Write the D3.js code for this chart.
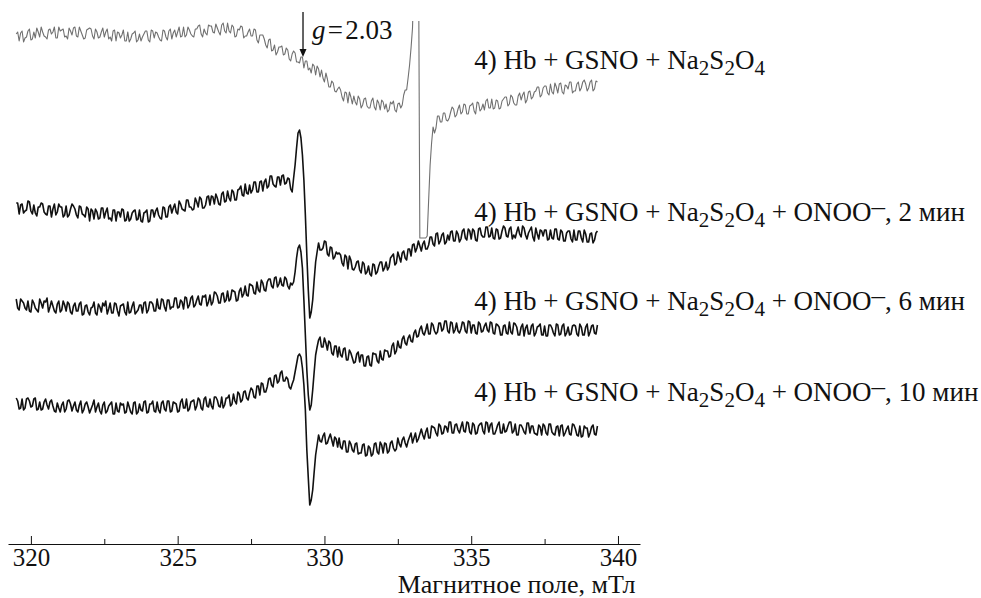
<!doctype html>
<html lang="ru">
<head>
<meta charset="utf-8">
<script src="https://cdn.jsdelivr.net/npm/d3@7"></script>
<style>
  body { margin: 0; background: #fff; }
  svg text { font-family: "Liberation Serif", "Times New Roman", serif; fill: #111; }
</style>
</head>
<body>
<svg id="chart" width="981" height="598"></svg>
<script>
// field sweep (mT), one spectrum value per step
const fieldStart = 319.5, fieldStep = 0.05;

// EPR spectra, arbitrary units
const specGSNO = [
  4,6,-3,5,7,-4,0,1,7,9,-2,-1,6,0,10,6,1,11,6,2,
  1,-1,8,9,4,6,11,0,0,11,7,8,9,1,2,-1,10,7,3,10,
  11,2,1,11,7,3,-1,0,8,9,10,9,2,-1,9,6,0,1,6,10,
  1,6,9,-1,1,-3,7,8,-3,6,5,0,3,8,-3,-3,6,-4,-1,4,
  5,7,-4,-2,4,-3,1,4,7,7,-2,-4,8,7,0,6,5,1,-2,-3,
  8,7,1,-2,7,9,-1,5,8,1,6,11,1,2,11,1,3,11,8,4,
  2,1,9,9,12,13,4,1,9,5,3,13,12,12,6,5,14,10,6,3,
  13,15,7,5,15,7,5,13,11,1,2,9,8,12,11,0,2,2,6,9,
  2,2,9,8,-2,-5,3,3,3,-1,-7,-10,-2,-1,-13,-12,-7,-17,-14,-9,
  -9,-8,-17,-16,-10,-12,-21,-23,-16,-13,-15,-24,-24,-25,-19,-19,-30,-23,-23,-32,
  -30,-35,-26,-28,-37,-28,-31,-39,-32,-40,-44,-35,-41,-49,-49,-43,-45,-53,-54,-51,
  -49,-52,-59,-63,-54,-55,-65,-54,-59,-66,-58,-64,-67,-58,-61,-70,-67,-61,-60,-68,
  -70,-70,-63,-60,-69,-72,-62,-65,-72,-62,-64,-71,-66,-74,-72,-64,-66,-63,-72,-74,
  -66,-65,-70,-67,-57,-52,-52,-40,-27,-10,10,60,120,120,120,-200,-200,-200,-200,-200,
  -198,-162,-127,-105,-89,-95,-90,-78,-78,-84,-84,-75,-75,-82,-83,-80,-74,-69,-71,-79,
  -77,-71,-67,-76,-74,-66,-67,-76,-76,-68,-67,-65,-73,-76,-64,-65,-73,-71,-66,-72,
  -63,-61,-70,-70,-61,-71,-70,-62,-63,-71,-70,-63,-61,-59,-59,-68,-66,-57,-59,-65,
  -67,-67,-58,-55,-62,-57,-54,-65,-62,-54,-53,-61,-59,-54,-53,-49,-49,-59,-57,-50,
  -48,-48,-55,-57,-46,-54,-56,-45,-49,-55,-46,-45,-54,-56,-47,-48,-51,-44,-44,-55,
  -53,-53,-46,-44,-53,-50,-44,-42,-46,-53,-50,-44,-42,-53,-51,-43,-44
];
const spec2min = [
  5,5,-6,3,4,-5,-3,-2,7,6,-3,-6,3,-5,-8,1,1,5,4,-4,
  -6,-7,2,2,-9,-1,4,-7,-4,4,1,1,-9,-7,2,-9,-7,-1,4,2,
  -1,-7,-10,2,1,-6,-7,-9,1,-1,-13,-1,-3,-11,-1,-4,-11,-10,0,0,
  -10,-4,0,-11,-10,-13,-2,-2,-13,-4,-4,-9,-1,-2,-13,-12,-4,-13,-11,-5,
  -3,-2,-12,-11,-2,-13,-14,-5,-4,-2,-14,-13,-2,-2,-9,-3,0,-7,-10,-11,
  1,0,-9,-9,1,3,-5,0,4,-4,-6,7,4,-1,-2,-3,8,8,1,1,
  -2,-1,10,6,1,11,9,0,0,3,11,12,3,12,11,4,14,10,4,3,
  14,16,6,7,17,10,7,18,16,8,8,18,19,22,13,12,24,15,14,23,
  15,18,26,26,16,16,26,27,17,26,29,20,22,32,32,24,22,21,31,31,
  23,32,33,24,25,30,29,19,16,30,43,60,75,78,70,53,28,-7,-47,-82,
  -110,-104,-92,-72,-54,-44,-35,-42,-42,-40,-33,-34,-46,-48,-39,-40,-51,-49,-44,-46,
  -45,-47,-55,-58,-47,-49,-61,-48,-52,-61,-62,-59,-54,-53,-62,-65,-54,-56,-66,-64,
  -58,-66,-68,-56,-57,-66,-64,-58,-54,-54,-63,-60,-54,-62,-59,-50,-48,-46,-57,-55,
  -44,-49,-54,-45,-43,-50,-52,-41,-41,-48,-37,-36,-44,-40,-33,-38,-43,-36,-33,-41,
  -41,-37,-29,-29,-36,-38,-26,-25,-36,-33,-27,-25,-36,-34,-27,-32,-24,-23,-33,-33,
  -23,-26,-34,-31,-23,-21,-30,-32,-21,-23,-31,-21,-23,-32,-33,-21,-20,-27,-29,-29,
  -19,-19,-29,-28,-20,-30,-31,-21,-22,-31,-30,-23,-18,-20,-28,-29,-21,-19,-31,-27,
  -30,-24,-19,-26,-29,-18,-20,-27,-31,-25,-22,-19,-29,-33,-20,-26,-31,-22,-23,-28,
  -22,-22,-32,-31,-22,-30,-31,-21,-21,-31,-32,-22,-24,-33,-33,-25,-23,-23,-31,-34,
  -22,-32,-32,-23,-23,-30,-34,-22,-26,-34,-34,-26,-25,-35,-32,-25,-23
];
const spec6min = [
  4,-5,-7,4,2,0,-5,-7,2,-8,-9,3,0,-5,-7,-9,4,0,-5,2,
  1,5,-9,-4,2,-3,-8,-10,-1,2,-9,-7,2,-2,-8,1,-1,-9,-11,-3,
  0,-8,-8,-1,1,-12,-11,-3,-2,-9,-12,-5,-4,1,-10,-12,-1,-4,-9,0,
  -3,2,-11,-6,0,-10,-10,0,-1,-8,-13,-3,-2,-1,-9,-12,1,-10,-9,-3,
  1,-11,-9,-7,-2,-2,-10,0,1,-10,-7,1,1,-1,-8,-8,4,-5,-6,4,
  3,-4,-8,3,3,-6,-4,-4,5,5,-5,-4,3,1,-6,6,5,-5,-2,5,
  7,-4,-2,3,7,-1,-2,7,6,8,-3,1,8,-2,1,11,10,7,0,0,
  9,10,1,3,12,2,4,13,12,11,2,3,12,15,6,9,17,8,7,19,
  18,17,10,9,21,13,11,23,20,13,12,21,24,24,17,15,25,26,16,19,
  25,18,17,26,24,17,14,20,18,21,31,45,55,58,51,35,3,-32,-67,-92,
  -107,-102,-87,-69,-52,-44,-37,-34,-44,-44,-35,-40,-47,-38,-40,-50,-52,-43,-43,-54,
  -44,-52,-54,-46,-45,-57,-57,-47,-50,-55,-60,-59,-51,-49,-59,-52,-52,-63,-63,-54,
  -53,-62,-63,-50,-51,-51,-58,-60,-48,-56,-57,-47,-48,-48,-54,-53,-43,-40,-51,-48,
  -38,-44,-45,-36,-33,-40,-42,-35,-32,-38,-39,-30,-27,-34,-33,-26,-23,-30,-32,-27,
  -21,-31,-31,-20,-22,-28,-31,-29,-20,-20,-28,-26,-18,-18,-28,-30,-19,-20,-30,-27,
  -20,-28,-30,-26,-19,-20,-28,-30,-18,-19,-30,-22,-22,-30,-31,-19,-21,-29,-28,-23,
  -20,-27,-29,-19,-20,-30,-31,-21,-22,-24,-32,-32,-23,-22,-30,-31,-19,-29,-31,-20,
  -21,-24,-32,-32,-24,-21,-33,-25,-22,-31,-31,-23,-21,-33,-30,-24,-23,-21,-32,-32,
  -23,-33,-33,-22,-22,-25,-30,-33,-21,-22,-32,-31,-23,-21,-33,-30,-24,-32,-31,-23,
  -22,-23,-31,-33,-21,-24,-32,-32,-24,-21,-33,-29,-23,-22,-30,-31,-22
];
const spec10min = [
  5,2,-6,-5,4,-7,-5,4,5,2,-4,-3,4,5,-7,-6,1,-7,-6,1,
  4,-2,-6,1,3,-3,-8,-9,0,-5,-9,-2,1,-9,-6,2,3,-1,-8,-3,
  1,-7,-9,-2,2,-10,-7,-1,1,-4,-10,-6,-2,3,-9,-4,0,-8,-11,-2,
  1,-10,-8,-3,-1,1,-11,-11,0,-8,-9,0,-2,-1,-10,-9,1,-4,-9,-11,
  0,1,-11,-9,-1,-7,-8,1,2,-10,-9,-1,-1,2,-8,-9,1,-7,-10,0,
  2,-6,-8,2,2,-9,-8,1,0,-1,-9,-8,1,4,-5,-5,4,-8,-6,1,
  2,3,-7,-3,5,3,-5,-7,4,6,-3,-4,4,-3,-6,6,6,3,-3,-4,
  6,-5,-2,5,5,8,-3,-1,9,2,-1,11,9,1,3,11,12,5,3,10,
  15,13,6,5,17,17,8,20,19,11,11,16,24,25,18,16,27,28,20,22,
  30,32,22,22,26,24,16,14,19,23,31,39,47,49,46,35,18,-7,-47,-75,
  -102,-97,-87,-69,-52,-42,-32,-38,-39,-33,-30,-41,-40,-35,-31,-37,-43,-34,-36,-44,
  -35,-44,-46,-38,-38,-49,-49,-38,-41,-47,-49,-41,-40,-51,-50,-50,-42,-41,-53,-52,
  -43,-45,-53,-51,-41,-40,-49,-51,-39,-42,-50,-40,-41,-50,-48,-40,-38,-45,-48,-46,
  -35,-41,-44,-37,-34,-40,-44,-38,-34,-30,-40,-35,-30,-39,-36,-31,-26,-32,-36,-29,
  -25,-35,-35,-23,-24,-25,-30,-33,-21,-23,-31,-30,-23,-24,-29,-19,-19,-30,-30,-22,
  -21,-27,-30,-24,-19,-28,-29,-19,-20,-29,-31,-20,-22,-31,-30,-23,-21,-20,-28,-31,
  -19,-20,-29,-22,-20,-31,-31,-27,-22,-19,-30,-30,-21,-29,-28,-23,-19,-19,-30,-28,
  -21,-32,-32,-22,-22,-25,-29,-31,-20,-20,-30,-23,-23,-30,-31,-32,-22,-24,-32,-21,
  -23,-30,-32,-21,-21,-29,-31,-32,-24,-23,-33,-23,-22,-33,-30,-26,-23,-31,-32,-21,
  -22,-26,-32,-33,-23,-34,-33,-23,-25,-25,-34,-30,-24,-22,-31,-32,-23
];

// vertical stacking of the spectra (a.u.)
const offsets = [0, -170, -265, -365];
const colors = ["#707070", "#111", "#111", "#111"];

const tickMajor = [320, 325, 330, 335, 340];
const tickMinor = [322.5, 327.5, 332.5, 337.5];
const axisTitle = "Магнитное поле, мТл";

const gField = 329.27;       // g = 2.03 marker
const labelField = 335.1;    // where trace labels start
const labelShift = [-30.5, -12.5, -6.5, 2.5];

const baseLabel = [["4) Hb + GSNO + Na"], ["2", "sub"], ["S"], ["2", "sub"], ["O"], ["4", "sub"]];
const onoo = t => [[" + ONOO"], ["–", "sup"], [", " + t]];
const labels = [
  baseLabel,
  baseLabel.concat(onoo("2 мин")),
  baseLabel.concat(onoo("6 мин")),
  baseLabel.concat(onoo("10 мин"))
];

const svg = d3.select("#chart");
const axisY = 544;

const x = d3.scaleLinear().domain([319.22, 340.75]).range([8, 640]);
const y = d3.scaleLinear().domain([-506, 38]).range([axisY, 0]);

svg.append("defs").append("clipPath").attr("id", "plot")
  .append("rect").attr("x", 0).attr("y", 21).attr("width", 981).attr("height", axisY - 21);

const traces = [specGSNO, spec2min, spec6min, spec10min];
const plot = svg.append("g").attr("clip-path", "url(#plot)");

traces.forEach((vals, k) => {
  const line = d3.line()
    .x((d, i) => x(fieldStart + i * fieldStep))
    .y(d => y(d + offsets[k]));
  plot.append("path")
    .attr("d", line(vals))
    .attr("fill", "none")
    .attr("stroke", colors[k])
    .attr("stroke-width", k === 0 ? 1.1 : 1.6)
    .attr("stroke-linejoin", "round");
});

// x axis, ticks pointing up
const axG = svg.append("g").attr("transform", `translate(0,${axisY})`)
  .call(d3.axisBottom(x).tickValues(tickMajor).tickSize(-8).tickSizeOuter(0).tickPadding(4).tickFormat(d3.format("d")));
axG.attr("font-family", null);
axG.selectAll("text").attr("font-size", 25);
axG.selectAll("line, path").attr("stroke", "#111");

const minG = svg.append("g").attr("transform", `translate(0,${axisY})`)
  .call(d3.axisBottom(x).tickValues(tickMinor).tickSize(-5).tickFormat(""));
minG.select(".domain").remove();
minG.selectAll("line").attr("stroke", "#111");

svg.append("text")
  .attr("x", x(340.6)).attr("y", 593)
  .attr("text-anchor", "end").attr("font-size", 26)
  .text(axisTitle);

// g marker
const gx = x(gField);
svg.append("line").attr("x1", gx).attr("x2", gx)
  .attr("y1", y(26)).attr("y2", y(-12)).attr("stroke", "#111").attr("stroke-width", 1.3);
svg.append("path")
  .attr("d", `M${gx - 3.5},${y(-11)}L${gx + 3.5},${y(-11)}L${gx},${y(-19)}Z`)
  .attr("fill", "#111");
const gt = svg.append("text").attr("x", gx + 9).attr("y", y(-1)).attr("font-size", 27);
gt.append("tspan").attr("font-style", "italic").text("g");
gt.append("tspan").text("\u200a=\u200a2.03");

// trace labels
labels.forEach((parts, k) => {
  const t = svg.append("text")
    .attr("x", x(labelField))
    .attr("y", y(offsets[k] + labelShift[k]))
    .attr("font-size", 27);
  let shift = 0;
  parts.forEach(([s, kind]) => {
    const want = kind === "sub" ? 6 : kind === "sup" ? -6 : 0;
    t.append("tspan")
      .attr("dy", want - shift)
      .attr("font-size", kind === "sub" ? 21 : 27)
      .text(s);
    shift = want;
  });
});
</script>
</body>
</html>
